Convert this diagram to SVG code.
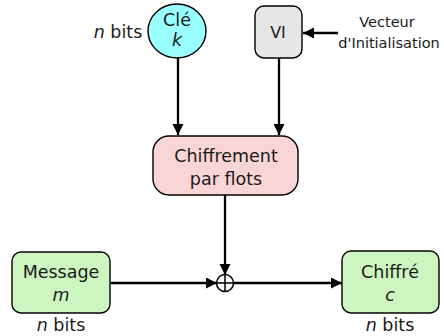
<svg xmlns="http://www.w3.org/2000/svg" width="444" height="336" viewBox="0 0 444 336">
<defs>
<marker id="ah" markerWidth="12" markerHeight="12" refX="11" refY="5.5" orient="auto" markerUnits="userSpaceOnUse">
<path d="M0,0 L11,5.5 L0,11 Z" fill="#000"/>
</marker>
</defs>
<style>
text{font-family:"DejaVu Sans",Verdana,sans-serif;font-size:17.5px;fill:#1a1a1a;text-anchor:middle}
.s{font-size:14.5px}
.v{font-size:16px}
.i{font-style:italic}
.box{stroke:#000;stroke-width:1.4}
.c{stroke:#000;stroke-width:2.3;fill:none}
</style>
<rect width="444" height="336" fill="#fff"/>
<g id="connectors">
<line class="c" x1="178" y1="58" x2="178" y2="135" marker-end="url(#ah)"/>
<line class="c" x1="279" y1="58" x2="279" y2="135" marker-end="url(#ah)"/>
<line class="c" x1="338" y1="33" x2="303" y2="33" marker-end="url(#ah)"/>
<line class="c" x1="225" y1="195" x2="225" y2="275" marker-end="url(#ah)"/>
<line class="c" x1="111" y1="283" x2="217" y2="283" marker-end="url(#ah)"/>
<line class="c" x1="233" y1="283" x2="342" y2="283" marker-end="url(#ah)"/>
</g>
<g id="cle">
<ellipse class="box" cx="177" cy="31" rx="29" ry="27" fill="#99ffff"/>
<text x="177" y="26">Clé</text>
<text x="177" y="46" class="i">k</text>
<text x="118" y="38"><tspan class="i">n</tspan> bits</text>
</g>
<g id="vi">
<rect class="box" x="255" y="6" width="47" height="52" rx="9" fill="#e6e6e6"/>
<text x="278" y="38" class="v">VI</text>
</g>
<g id="vecteur">
<text x="387" y="27" class="s">Vecteur</text>
<text x="389" y="48" class="s">d'Initialisation</text>
</g>
<g id="chiffrement">
<rect class="box" x="153" y="136" width="145" height="59" rx="16" fill="#f9d5d5"/>
<text x="226" y="162">Chiffrement</text>
<text x="226" y="185">par flots</text>
</g>
<g id="xor">
<circle cx="225" cy="283" r="8.5" fill="#fff" stroke="#000" stroke-width="1.5"/>
<line x1="216.5" y1="283" x2="233.5" y2="283" stroke="#000" stroke-width="1.5"/>
<line x1="225" y1="274.5" x2="225" y2="291.5" stroke="#000" stroke-width="1.5"/>
</g>
<g id="message">
<rect class="box" x="12" y="252" width="98" height="61" rx="9" fill="#ccf5c0"/>
<text x="61" y="278">Message</text>
<text x="61" y="301" class="i">m</text>
<text x="61" y="331"><tspan class="i">n</tspan> bits</text>
</g>
<g id="chiffre">
<rect class="box" x="342" y="251" width="97" height="62" rx="9" fill="#ccf5c0"/>
<text x="390" y="278">Chiffré</text>
<text x="390" y="301" class="i">c</text>
<text x="390" y="331"><tspan class="i">n</tspan> bits</text>
</g>
</svg>
